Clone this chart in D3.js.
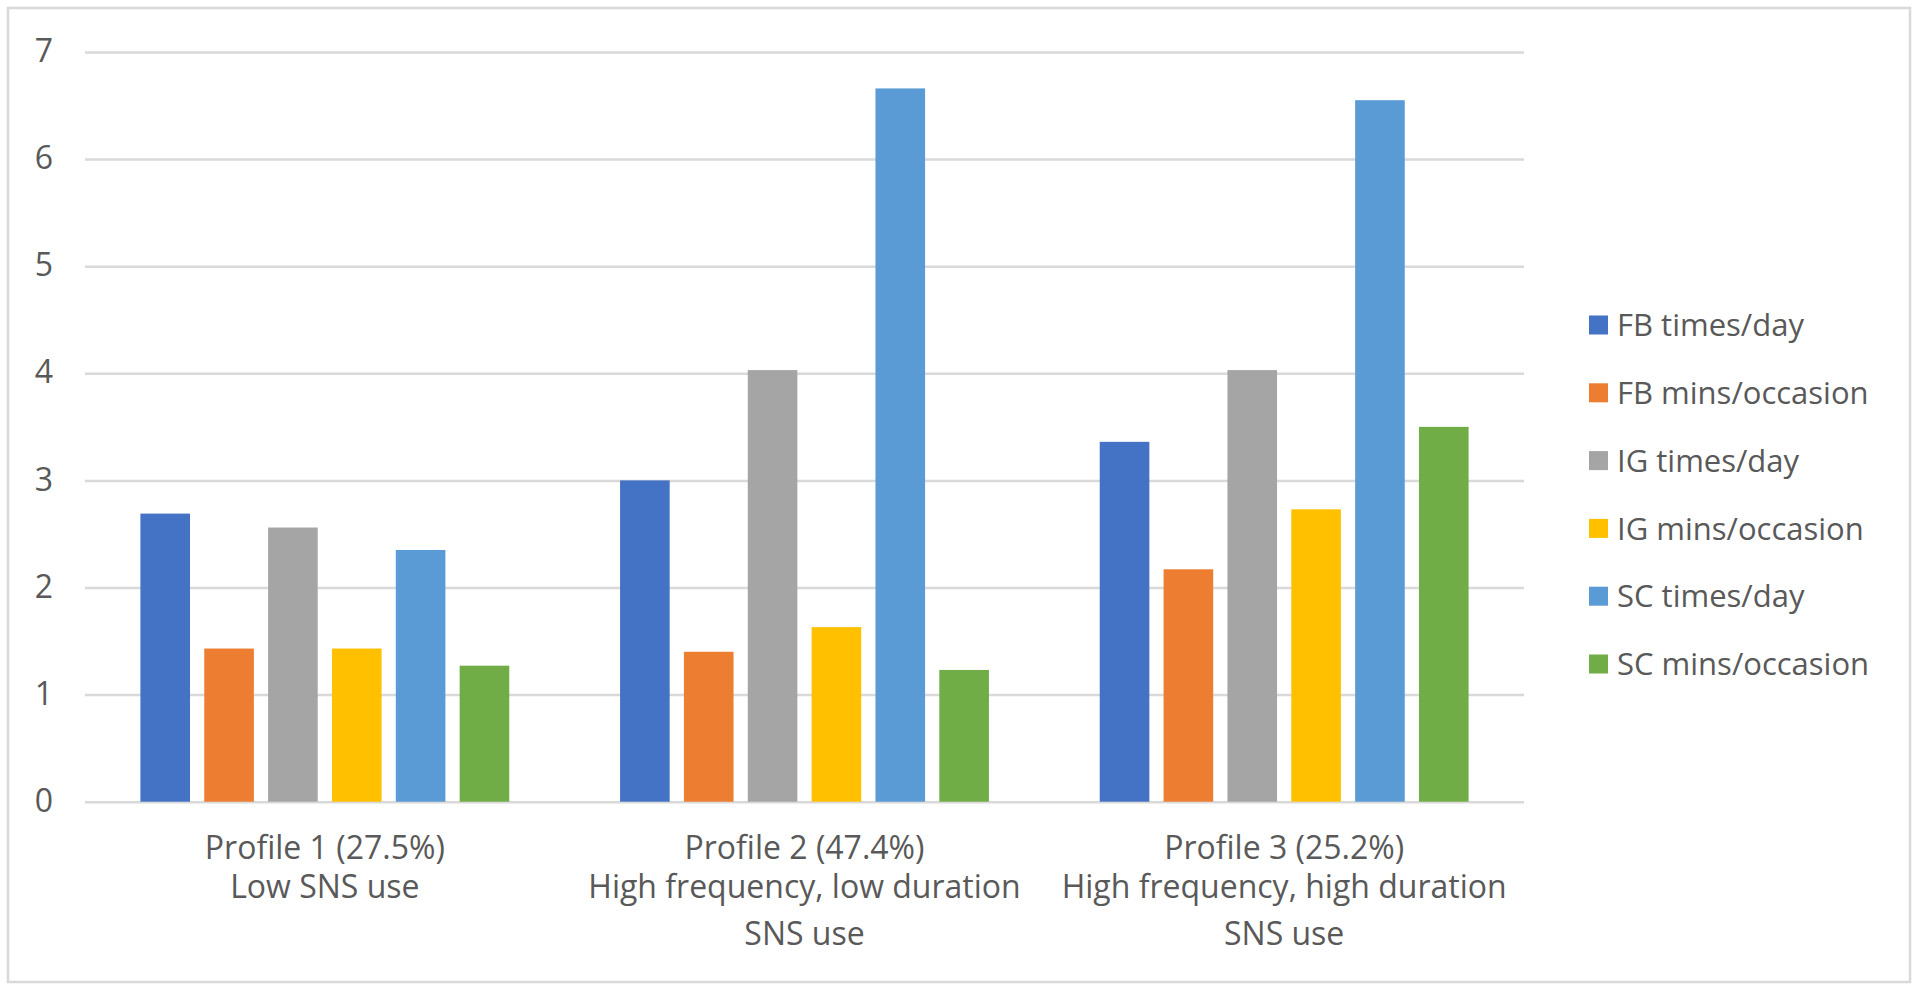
<!DOCTYPE html>
<html>
<head>
<meta charset="utf-8">
<script src="https://cdn.jsdelivr.net/npm/d3@7"></script>
<style>
  html, body { margin: 0; padding: 0; background: #ffffff; }
  svg { display: block; }
  text { font-family: "Open Sans", "Liberation Sans", sans-serif; fill: #595959; }
</style>
</head>
<body>
<svg id="chart" width="1920" height="991"></svg>
<script>
// ---- data ----
const categories = ["Profile 1", "Profile 2", "Profile 3"];
const categoryLabels = [
  ["Profile 1 (27.5%)", "Low SNS use"],
  ["Profile 2 (47.4%)", "High frequency, low duration", "SNS use"],
  ["Profile 3 (25.2%)", "High frequency, high duration", "SNS use"]
];
const seriesNames = ["FB times/day", "FB mins/occasion", "IG times/day", "IG mins/occasion", "SC times/day", "SC mins/occasion"];
const fbTimesDay = [2.69, 3.00, 3.36];
const fbMinsOccasion = [1.43, 1.40, 2.17];
const igTimesDay = [2.56, 4.03, 4.03];
const igMinsOccasion = [1.43, 1.63, 2.73];
const scTimesDay = [2.35, 6.66, 6.55];
const scMinsOccasion = [1.27, 1.23, 3.50];
const yTicks = [0, 1, 2, 3, 4, 5, 6, 7];
const seriesColors = ["#4472C4", "#ED7D31", "#A5A5A5", "#FFC000", "#5B9BD5", "#70AD47"];

const seriesValues = [fbTimesDay, fbMinsOccasion, igTimesDay, igMinsOccasion, scTimesDay, scMinsOccasion];

// ---- layout ----
const plotLeft = 85, plotRight = 1524, plotTop = 52, plotBottom = 801.7;
const svg = d3.select("#chart");

// outer border
svg.append("rect")
  .attr("x", 8).attr("y", 8).attr("width", 1902).attr("height", 974)
  .attr("fill", "none").attr("stroke", "#d9d9d9").attr("stroke-width", 2.5);

const y = d3.scaleLinear().domain([0, 7]).range([plotBottom, plotTop]);
const x0 = d3.scaleBand().domain(categories).range([plotLeft, plotRight]).paddingInner(0).paddingOuter(0);
const groupFrac = 0.769;
const groupWidth = x0.bandwidth() * groupFrac;
const x1 = d3.scaleBand().domain(seriesNames).range([0, groupWidth]).paddingInner(0.223).paddingOuter(0);
const color = d3.scaleOrdinal().domain(seriesNames).range(seriesColors);

// gridlines + y labels via axis
const yAxis = d3.axisLeft(y).tickValues(yTicks).tickFormat(d3.format("d"))
  .tickSize(-(plotRight - plotLeft)).tickPadding(32);
const gy = svg.append("g").attr("transform", `translate(${plotLeft},0)`).call(yAxis);
gy.select(".domain").remove();
gy.selectAll(".tick line").attr("stroke", "#d9d9d9").attr("stroke-width", 2.5);
gy.selectAll(".tick text")
  .attr("font-size", 32).attr("fill", "#595959")
  .attr("font-family", "Open Sans, Liberation Sans, sans-serif")
  .attr("dy", "0.3em");

// bars
const groups = svg.append("g").selectAll("g")
  .data(categories)
  .join("g")
  .attr("transform", d => `translate(${x0(d) + (x0.bandwidth() - groupWidth) / 2},0)`);

groups.selectAll("rect")
  .data((d, ci) => seriesNames.map((s, si) => ({ s, v: seriesValues[si][ci] })))
  .join("rect")
  .attr("x", d => x1(d.s))
  .attr("width", x1.bandwidth())
  .attr("y", d => y(d.v))
  .attr("height", d => y(0) - y(d.v))
  .attr("fill", d => color(d.s));

// x category labels
const lineBaselines = [859, 898, 945];
svg.append("g").selectAll("text")
  .data(categories)
  .join("text")
  .attr("text-anchor", "middle")
  .attr("font-size", 32)
  .each(function (d, i) {
    const t = d3.select(this);
    categoryLabels[i].forEach((line, li) => {
      t.append("tspan")
        .attr("x", x0(d) + x0.bandwidth() / 2)
        .attr("y", lineBaselines[li])
        .text(line);
    });
  });

// legend
const legendX = 1589, legendY0 = 325, legendStep = 67.8, sw = 19;
const lg = svg.append("g").selectAll("g")
  .data(seriesNames)
  .join("g")
  .attr("transform", (d, i) => `translate(${legendX},${legendY0 + i * legendStep})`);
lg.append("rect")
  .attr("x", 0).attr("y", -sw / 2).attr("width", sw).attr("height", sw)
  .attr("fill", d => color(d));
lg.append("text")
  .attr("x", 28).attr("y", 0).attr("dy", "0.36em")
  .attr("font-size", 31)
  .text(d => d);
</script>
</body>
</html>
